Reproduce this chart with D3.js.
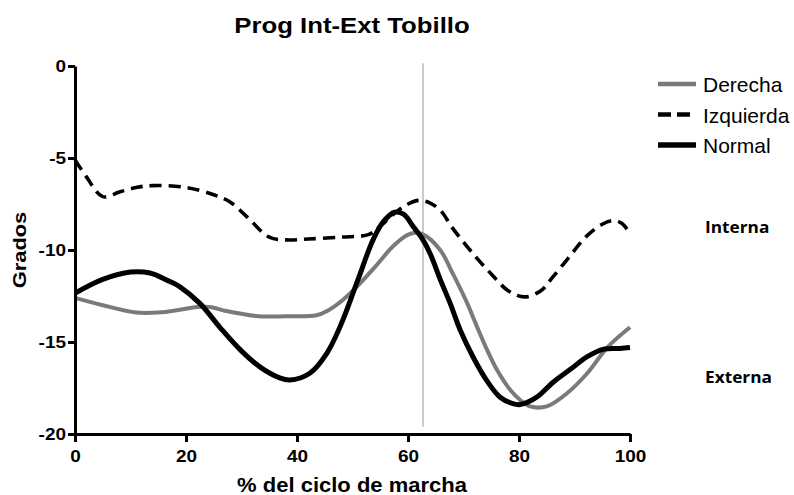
<!DOCTYPE html>
<html>
<head>
<meta charset="utf-8">
<script src="https://cdn.jsdelivr.net/npm/d3@7"></script>
<style>
  body { margin: 0; background: #fff; }
  svg { display: block; }
</style>
</head>
<body>
<div id="chart"></div>
<script>
var width = 794;
var height = 495;
var margin = {"top": 66, "right": 164, "bottom": 61, "left": 75};

// data (grados vs % del ciclo de marcha)
var derechaX = [0, 5, 11, 15, 18.9, 22, 24.3, 27, 29.7, 33, 38, 43.5, 45.5, 48.3, 51.4, 54.4, 57.3, 59.8, 61, 62.7, 65.8, 68.1, 70.6, 72.4, 74.2, 76, 78.4, 80.2, 82, 85, 88.6, 92.3, 95.9, 100];
var derechaY = [-12.6, -13.0, -13.4, -13.4, -13.25, -13.1, -13.1, -13.3, -13.45, -13.6, -13.6, -13.55, -13.3, -12.7, -11.8, -10.8, -9.8, -9.2, -9.07, -9.15, -10.0, -11.3, -12.85, -14.15, -15.4, -16.5, -17.6, -18.15, -18.5, -18.5, -17.8, -16.7, -15.3, -14.2];

var izquierdaX = [0, 2, 5, 8, 11, 14, 20, 25, 28, 31, 35, 38, 42, 48, 53, 55, 58, 60, 62, 64, 66, 68, 72, 75, 78, 81, 84, 86, 89, 92, 95, 97, 98.5, 100];
var izquierdaY = [-5.1, -6.0, -7.1, -6.85, -6.6, -6.5, -6.6, -7.0, -7.4, -8.2, -9.3, -9.45, -9.4, -9.3, -9.15, -8.7, -7.9, -7.5, -7.3, -7.45, -7.9, -8.8, -10.3, -11.3, -12.2, -12.55, -12.2, -11.5, -10.4, -9.3, -8.6, -8.4, -8.55, -9.1];

var normalX = [0, 5, 10, 13.5, 17, 18.9, 22.5, 26.1, 29.7, 33.3, 36.9, 38.7, 42.3, 45.4, 48, 51, 53.7, 55.6, 57.6, 59.2, 61, 62.7, 64, 65.8, 67.6, 69.4, 71.7, 74.2, 76.6, 78.9, 80.2, 83.2, 86.1, 89.2, 92.3, 95.1, 98.2, 100];
var normalY = [-12.35, -11.6, -11.2, -11.25, -11.7, -12.0, -12.9, -14.2, -15.4, -16.35, -16.95, -17.07, -16.7, -15.6, -14.0, -11.6, -9.45, -8.45, -7.95, -8.05, -8.75, -9.45, -10.2, -11.6, -12.9, -14.35, -15.8, -17.1, -18.0, -18.35, -18.4, -18.0, -17.2, -16.5, -15.8, -15.4, -15.35, -15.3];

var series = ["Derecha", "Izquierda", "Normal"];
var xTicks = [0, 20, 40, 60, 80, 100];
var yTicks = [0, -5, -10, -15, -20];
var markerX = 62.7;
var markerRange = [0.15, -19.6];

var styles = {
  "Derecha": {"color": "#7a7a7a", "width": 4, "dash": null},
  "Izquierda": {"color": "#000", "width": 3.6, "dash": "12,7"},
  "Normal": {"color": "#000", "width": 5, "dash": null}
};

var lines = [
  {"name": "Derecha", "values": derechaX.map(function(x, i){ return [x, derechaY[i]]; })},
  {"name": "Izquierda", "values": izquierdaX.map(function(x, i){ return [x, izquierdaY[i]]; })},
  {"name": "Normal", "values": normalX.map(function(x, i){ return [x, normalY[i]]; })}
];

// scales
var xScale = d3.scaleLinear()
  .domain([0, 100])
  .range([margin.left, width - margin.right]);
var yScale = d3.scaleLinear()
  .domain([-20, 0])
  .range([height - margin.bottom, margin.top]);

var svg = d3.select("#chart").append("svg")
  .attr("width", width)
  .attr("height", height)
  .style("font-family", "'Liberation Sans', Arial, sans-serif");

// marker line
svg.append("line")
  .attr("x1", xScale(markerX)).attr("x2", xScale(markerX))
  .attr("y1", yScale(markerRange[0])).attr("y2", yScale(markerRange[1]))
  .attr("stroke", "#a8a8a8")
  .attr("stroke-width", 1.2);

// curves
var line = d3.line()
  .x(function(d){ return xScale(d[0]); })
  .y(function(d){ return yScale(d[1]); })
  .curve(d3.curveCatmullRom.alpha(0.5));

svg.selectAll("path.serie")
  .data(lines)
  .enter().append("path")
  .attr("class", "serie")
  .attr("d", function(d){ return line(d.values); })
  .attr("fill", "none")
  .attr("stroke", function(d){ return styles[d.name].color; })
  .attr("stroke-width", function(d){ return styles[d.name].width; })
  .attr("stroke-dasharray", function(d){ return styles[d.name].dash; })
  .attr("stroke-linejoin", "round");

// axes
var xAxis = d3.axisBottom(xScale)
  .tickValues(xTicks)
  .tickSize(8)
  .tickSizeOuter(0)
  .tickPadding(8)
  .tickFormat(d3.format("d"));
var yAxis = d3.axisLeft(yScale)
  .tickValues(yTicks)
  .tickSize(7)
  .tickSizeOuter(0)
  .tickPadding(2)
  .tickFormat(function(d){ return d; });

var gx = svg.append("g")
  .attr("transform", "translate(" + [0, height - margin.bottom] + ")")
  .call(xAxis);
var gy = svg.append("g")
  .attr("transform", "translate(" + [margin.left, 0] + ")")
  .call(yAxis);

[gx, gy].forEach(function(g){
  g.select(".domain").attr("stroke", "#000").attr("stroke-width", 3);
  g.selectAll(".tick line").attr("stroke", "#000").attr("stroke-width", 3);
  g.selectAll(".tick text")
    .attr("fill", "#000")
    .style("font-size", "16.5px")
    .style("font-weight", "bold")
    .style("font-family", "'Liberation Sans', Arial, sans-serif");
});
// the original picture is a bit stretched sideways
gx.selectAll(".tick text").attr("transform", "scale(1.15,1)");
gy.selectAll(".tick text").attr("x", -9 / 1.15).attr("transform", "scale(1.15,1)");

// title & labels
svg.append("text")
  .attr("transform", "translate(352,33) scale(1.17,1)")
  .attr("text-anchor", "middle")
  .style("font-size", "22px").style("font-weight", "bold")
  .text("Prog Int-Ext Tobillo");

svg.append("text")
  .attr("transform", "translate(352,492) scale(1.1,1)")
  .attr("text-anchor", "middle")
  .style("font-size", "20px").style("font-weight", "bold")
  .text("% del ciclo de marcha");

svg.append("text")
  .attr("transform", "translate(26,250) rotate(-90) scale(1.15,1)")
  .attr("text-anchor", "middle")
  .style("font-size", "19px").style("font-weight", "bold")
  .text("Grados");

// legend
var legend = svg.selectAll("g.legend")
  .data(series)
  .enter().append("g")
  .attr("class", "legend")
  .attr("transform", function(d, i){ return "translate(" + [658, 84 + i * 30.5] + ")"; });

legend.append("line")
  .attr("x1", 0).attr("x2", 38)
  .attr("y1", 0).attr("y2", 0)
  .attr("stroke", function(d){ return styles[d].color; })
  .attr("stroke-width", function(d){ return d == "Normal" ? 5.5 : 4.5; })
  .attr("stroke-dasharray", function(d){ return d == "Izquierda" ? "13,6" : null; });

legend.append("text")
  .attr("x", 45).attr("y", 8)
  .style("font-size", "21px")
  .text(function(d){ return d; });

// side notes
svg.append("text")
  .attr("transform", "translate(705,233) scale(1.08,1)")
  .style("font-family", "'Open Sans', sans-serif")
  .style("font-size", "16px").style("font-weight", "bold")
  .text("Interna");
svg.append("text")
  .attr("transform", "translate(705,383) scale(1.08,1)")
  .style("font-family", "'Open Sans', sans-serif")
  .style("font-size", "16px").style("font-weight", "bold")
  .text("Externa");
</script>
</body>
</html>
